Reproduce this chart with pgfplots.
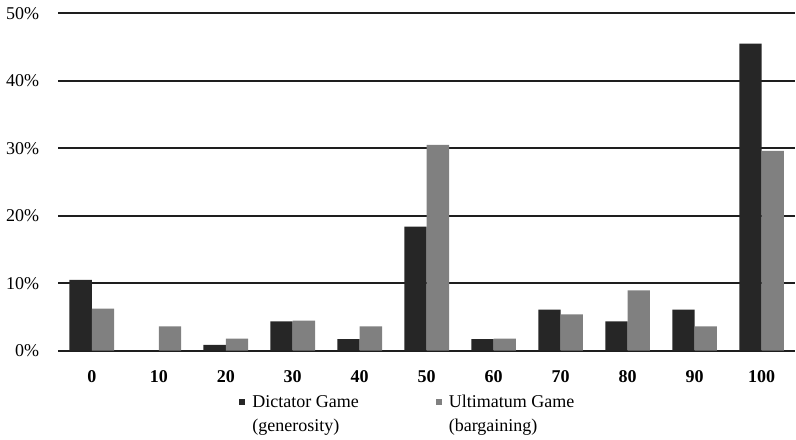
\documentclass[border=0pt]{standalone}
\usepackage{fontspec}
\setmainfont{Liberation Serif}
\usepackage{pgfplots}
\pgfplotsset{compat=1.18}
\definecolor{dictc}{HTML}{262626}
\definecolor{ultc}{HTML}{808080}
\definecolor{gridc}{HTML}{1E1E1E}

\begin{document}
\begin{tikzpicture}
\begin{axis}[
  scale only axis,
  width=368.4pt, height=168.7pt,
  ybar=0pt, bar width=11.15pt,
  xmin=-0.5, xmax=10.5, ymin=0, ymax=50,
  xtick=data,
  xticklabels={0,10,20,30,40,50,60,70,80,90,100},
  ytick={0,10,20,30,40,50},
  yticklabel={\pgfmathprintnumber{\tick}\%},
  /pgf/number format/assume math mode=true,
  ymajorgrids,
  grid style={gridc, line width=0.85pt},
  axis line style={draw=none},
  major tick length=0pt,
  tick label style={font=\fontsize{9}{12}\selectfont},
  xticklabel style={font=\fontsize{9}{12}\selectfont\bfseries, yshift=-6.5pt},
  yticklabel style={xshift=-6pt},
  legend columns=2,
  legend cell align=left,
  legend image code/.code={\fill[#1] (0pt,5pt) rectangle (3pt,8pt);},
  legend style={
    at={(axis description cs:0.2457,-0.1197)}, anchor=north west,
    draw=none, inner sep=0pt, outer sep=0pt,
    font=\fontsize{9}{12}\selectfont,
    cells={align=left},
    /tikz/every odd column/.append style={column sep=1.5pt},
    /tikz/every even column/.append style={column sep=36.5pt},
  },
]
\addplot[draw=none, fill=dictc] coordinates {
  (0,10.5) (1,0) (2,0.85) (3,4.35) (4,1.7) (5,18.4)
  (6,1.7) (7,6.1) (8,4.35) (9,6.1) (10,45.5)
};
\addlegendentry{Dictator Game\\(generosity)}
\addplot[draw=none, fill=ultc] coordinates {
  (0,6.25) (1,3.6) (2,1.8) (3,4.45) (4,3.6) (5,30.5)
  (6,1.8) (7,5.4) (8,8.95) (9,3.6) (10,29.6)
};
\addlegendentry{Ultimatum Game\\(bargaining)}
\end{axis}
\pgfresetboundingbox
\path[use as bounding box] (-29.15pt,-44.15pt) rectangle (368.85pt,175.35pt);
\end{tikzpicture}
\end{document}
